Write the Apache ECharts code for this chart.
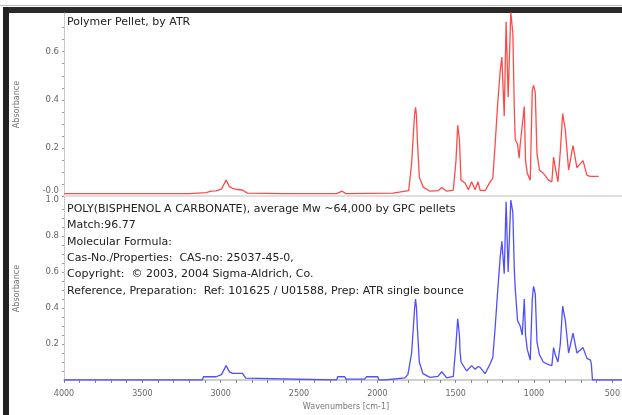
<!DOCTYPE html>
<html><head><meta charset="utf-8">
<script src="https://cdn.jsdelivr.net/npm/echarts@6/dist/echarts.min.js"></script>
<style>html,body{margin:0;padding:0;background:#fff}#c{width:622px;height:415px}</style>
</head><body><div id="c"></div>
<script>
// Sample spectrum (top, red)
const redWavenumbers = [4000,3500,3200,3093,3060,3029,2995,2965,2944,2925,2893,2861,2829,2600,2260,2225,2200,1900,1800,1781,1762,1756,1750,1745,1732,1707,1664,1611,1589,1557,1515,1498,1487,1476,1466,1440,1419,1398,1376,1357,1344,1312,1280,1263,1248,1233,1216,1205,1190,1178,1165,1148,1135,1126,1120,1105,1095,1088,1062,1054,1043,1024,1011,1003,992,981,965,941,907,886,875,864,847,832,817,800,779,751,726,687,662,640,587];
const redAbsorbance = [0.01,0.01,0.01,0.014,0.02,0.021,0.029,0.066,0.039,0.032,0.027,0.025,0.012,0.01,0.01,0.02,0.01,0.012,0.022,0.137,0.343,0.369,0.333,0.24,0.078,0.037,0.02,0.022,0.035,0.02,0.024,0.147,0.294,0.235,0.066,0.054,0.026,0.059,0.026,0.059,0.024,0.022,0.059,0.073,0.215,0.372,0.519,0.578,0.333,0.725,0.411,0.764,0.676,0.372,0.235,0.215,0.157,0.215,0.372,0.147,0.095,0.066,0.44,0.46,0.431,0.176,0.108,0.095,0.066,0.059,0.162,0.118,0.059,0.186,0.343,0.274,0.108,0.21,0.118,0.147,0.086,0.082,0.082];
// Library reference spectrum (bottom, blue)
const blueWavenumbers = [4000,3117,3110,3029,2995,2965,2944,2925,2861,2840,2829,2260,2253,2208,2200,2080,2070,1997,1990,1952,1940,1824,1805,1781,1762,1756,1750,1745,1732,1709,1664,1613,1589,1557,1515,1498,1487,1476,1472,1466,1430,1398,1376,1357,1344,1312,1280,1263,1248,1233,1216,1205,1190,1178,1165,1148,1135,1126,1120,1105,1088,1075,1062,1054,1043,1024,1011,1003,992,981,965,941,907,886,875,864,847,832,817,800,779,751,726,687,662,640,634,627,400];
const blueAbsorbance = [0,0,0.018,0.018,0.03,0.08,0.045,0.037,0.037,0.01,0,0,0.018,0.018,0.005,0.005,0.018,0.018,0,0,0.01,0.012,0.03,0.15,0.40,0.45,0.40,0.3,0.1,0.035,0.015,0.02,0.046,0.012,0.02,0.2,0.34,0.25,0.16,0.1,0.05,0.08,0.06,0.075,0.07,0.035,0.09,0.125,0.29,0.48,0.68,0.77,0.59,0.99,0.6,1.0,0.93,0.62,0.51,0.33,0.30,0.25,0.45,0.25,0.17,0.11,0.45,0.52,0.48,0.21,0.14,0.10,0.085,0.08,0.18,0.14,0.1,0.2,0.41,0.33,0.15,0.26,0.15,0.18,0.12,0.11,0.09,0,0];
const xTickLabels = [4000,3500,3000,2500,2000,1500,1000,500];
const topYTicks = [0.2,0.4,0.6];
const topZeroLabel = '-0.0';
const bottomYTicks = [0.2,0.4,0.6,0.8,1.0];
const topTitle = 'Polymer Pellet, by ATR';
const bottomLines = [
  'POLY(BISPHENOL A CARBONATE), average Mw ~64,000 by GPC pellets',
  'Match:96.77',
  'Molecular Formula:',
  'Cas-No./Properties:  CAS-no: 25037-45-0,',
  'Copyright:  \u00a9 2003, 2004 Sigma-Aldrich, Co.',
  'Reference, Preparation:  Ref: 101625 / U01588, Prep: ATR single bounce'
];

const minorYTop = []; for (let v = 0; v <= 0.75; v += 0.05) minorYTop.push(+v.toFixed(2));
const minorYBot = []; for (let v = 0.05; v <= 1.0; v += 0.05) minorYBot.push(+v.toFixed(2));

const font = 'DejaVu Sans';
const chart = echarts.init(document.getElementById('c'), null, {renderer:'canvas'});
const mk = (ws, vs) => ws.map((w,i)=>[w, vs[i]]);

const xBase = {
  type:'value', inverse:true, min:400, max:4000, interval:100,
  splitLine:{show:false},
  axisLine:{show:true, lineStyle:{color:'#cfcfcf', width:2}},
  axisTick:{show:true, interval:0, length:3, lineStyle:{color:'#888'}},
};
const yBase = {
  type:'value', splitLine:{show:false},
  axisLine:{show:true, lineStyle:{color:'#bbb', width:1, type:'dotted'}},
  nameLocation:'middle', nameGap:43, name:'Absorbance',
  nameTextStyle:{color:'#777', fontSize:8, fontFamily:font},
};

chart.setOption({
  animation:false,
  backgroundColor:'#fff',
  grid:[
    {left:64, width:564, top:13, height:183, containLabel:false, outerBoundsMode:'none'},
    {left:64, width:564, top:197, height:183, containLabel:false, outerBoundsMode:'none'}
  ],
  xAxis:[
    Object.assign({}, xBase, {gridIndex:0, axisLabel:{show:false}, axisTick:{show:false}, axisLine:{show:true, lineStyle:{color:'#e0e0e0', width:2}}}),
    Object.assign({}, xBase, {gridIndex:1,
      name:'Wavenumbers [cm-1]', nameLocation:'middle', nameGap:23,
      nameTextStyle:{color:'#777', fontSize:8, fontFamily:font},
      axisLabel:{interval:0, color:'#666', fontSize:8, fontFamily:font, margin:10,
        formatter:v => xTickLabels.indexOf(v) >= 0 ? String(v) : ''}})
  ],
  yAxis:[
    Object.assign({}, yBase, {gridIndex:0, min:0, max:0.761,
      axisTick:{show:true, customValues:minorYTop, length:2, lineStyle:{color:'#999'}},
      axisLabel:{customValues:topYTicks, color:'#666', fontSize:8.5, fontFamily:font, margin:5,
        formatter:v => v.toFixed(1)}}),
    Object.assign({}, yBase, {gridIndex:1, min:0, max:1.0167,
      axisTick:{show:true, customValues:minorYBot, length:2, lineStyle:{color:'#999'}},
      axisLabel:{customValues:bottomYTicks, color:'#666', fontSize:8.5, fontFamily:font, margin:5,
        formatter:v => v.toFixed(1)}})
  ],
  series:[
    {type:'line', xAxisIndex:0, yAxisIndex:0, data:mk(redWavenumbers, redAbsorbance),
     showSymbol:false, lineStyle:{color:'#ff4a4a', width:1.3}, clip:true},
    {type:'line', xAxisIndex:1, yAxisIndex:1, data:mk(blueWavenumbers, blueAbsorbance),
     showSymbol:false, lineStyle:{color:'#4f4fff', width:1.3}, clip:true}
  ],
  graphic:[
    {type:'rect', shape:{x:0, y:5, width:622, height:1}, style:{fill:'#bbb'}},
    {type:'rect', shape:{x:3, y:7, width:619, height:6}, style:{fill:'#2a2a2a'}},
    {type:'rect', shape:{x:3, y:7, width:6, height:408}, style:{fill:'#222'}},
    {type:'text', x:59, y:191, style:{text:topZeroLabel, fill:'#666', font:'8.5px "DejaVu Sans"', align:'right', verticalAlign:'middle'}},
    {type:'text', left:67, top:17, style:{text:topTitle, fill:'#222', font:'11px "DejaVu Sans"'}},
    ...bottomLines.map((t,i)=>({type:'text', left:67, top:203.5 + i*16.4, style:{text:t, fill:'#222', font:'11px "DejaVu Sans"'}}))
  ]
});
</script></body></html>
